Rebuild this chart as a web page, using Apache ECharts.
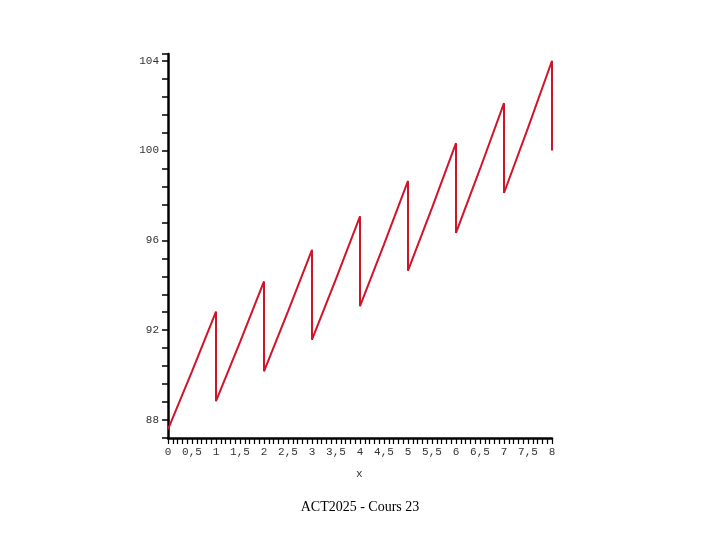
<!DOCTYPE html>
<html><head><meta charset="utf-8">
<script src="https://cdn.jsdelivr.net/npm/echarts@6/dist/echarts.min.js"></script>
<style>html,body{margin:0;padding:0;background:#fff}#c{width:720px;height:540px}</style>
</head><body><div id="c"></div>
<script>
// Sawtooth: value just after each coupon date, mid-period, and just before next drop
const xValues = [0, 0.5, 1, 1, 1.5, 2, 2, 2.5, 3, 3, 3.5, 4, 4, 4.5, 5, 5, 5.5, 6, 6, 6.5, 7, 7, 7.5, 8, 8];
const yValues = [87.58, 90.17, 92.83, 88.84, 91.47, 94.17, 90.17, 92.84, 95.58, 91.58, 94.29, 97.07, 93.07, 95.82, 98.65, 94.65, 97.45, 100.33, 96.33, 99.18, 102.11, 98.11, 101.01, 104.00, 100.00];
const yLabelValues = [88, 92, 96, 100, 104];
const xLabelStep = 0.5;
const caption = 'ACT2025 - Cours 23';
const xName = 'x';

const data = xValues.map((x, i) => [x, yValues[i]]);
const chart = echarts.init(document.getElementById('c'), null, {renderer: 'canvas'});
chart.setOption({
  animation: false,
  backgroundColor: '#fff',
  grid: {left: 168, right: 168, top: 54, bottom: 102, containLabel: false},
  title: {
    text: caption, left: 'center', top: 495,
    textStyle: {fontFamily: 'Liberation Serif', fontSize: 14, fontWeight: 'normal', color: '#000'}
  },
  graphic: [{
    type: 'text', left: 356, top: 469,
    style: {text: xName, font: '11px "Liberation Mono"', fill: '#333'}
  }],
  xAxis: {
    type: 'value', min: 0, max: 8, interval: 0.1,
    axisLine: {show: true, onZero: false, lineStyle: {color: '#000', width: 2.5}},
    axisTick: {show: true, length: 6, lineStyle: {color: '#000', width: 1.2}},
    splitLine: {show: false},
    axisLabel: {
      margin: 9, fontFamily: 'Liberation Mono', fontSize: 11, color: '#333',
      formatter: v => {
        const r = v / xLabelStep;
        return Math.abs(r - Math.round(r)) < 1e-6 ? String(Math.round(v * 10) / 10).replace('.', ',') : '';
      }
    }
  },
  yAxis: {
    type: 'value', min: 87.2, max: 104.3, interval: 0.8,
    axisLine: {show: true, onZero: false, lineStyle: {color: '#000', width: 2.5}},
    axisTick: {show: true, length: 6, lineStyle: {color: '#000', width: 1.5}},
    splitLine: {show: false},
    axisLabel: {
      margin: 9, fontFamily: 'Liberation Mono', fontSize: 11, color: '#333',
      formatter: v => {
        const hit = yLabelValues.find(t => Math.abs(t - v) < 1e-6);
        return hit !== undefined ? String(hit) : '';
      }
    }
  },
  series: [{
    type: 'line', data: data, showSymbol: false, symbol: 'none',
    lineStyle: {color: '#d0142a', width: 2},
    clip: false
  }]
});
</script></body></html>
